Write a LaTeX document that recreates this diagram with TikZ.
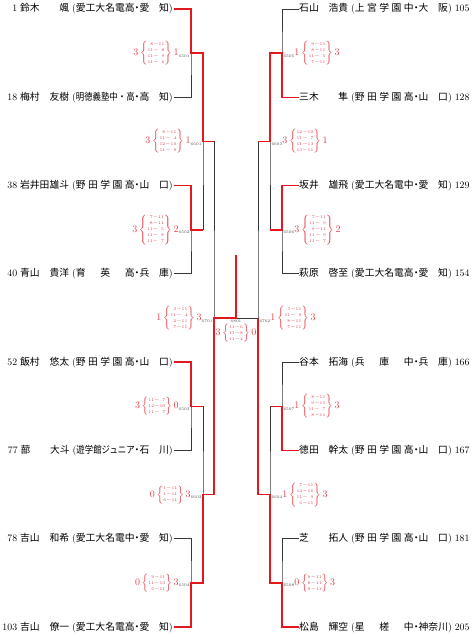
\documentclass[tikz,border=0pt]{standalone}
\usepackage{fontspec}
\usepackage{graphicx}
\usepackage{xcolor}
\usepackage{tikz}
\usetikzlibrary{positioning}
\newfontfamily\cjk{Noto Sans CJK JP}
\definecolor{winred}{RGB}{225,25,30}
\definecolor{scorered}{RGB}{228,62,72}
\definecolor{losegray}{RGB}{55,55,55}
% entry fields
\newcommand\nm[2]{\makebox[5em][l]{#1\hfill #2}}
\newcommand\sch[1]{\makebox[6em][s]{#1}}
\newcommand\pref[1]{\makebox[3em][s]{#1}}
\newcommand\pleft[5]{\makebox[1.5em][r]{\rmfamily #1}\hspace{0.3em}\nm{#2}{#3}\hspace{0.3em}{\rmfamily(}#4\makebox[0.5em]{・}#5{\rmfamily)}}
\newcommand\pright[5]{\nm{#2}{#3}\hspace{0.3em}{\rmfamily(}#4\makebox[0.5em]{・}#5{\rmfamily)}\hspace{0.3em}\makebox[1.5em][l]{\rmfamily #1}}
% game scores
\newcommand\games[1]{\vcenter{\hbox{\fontsize{4.2}{6}\selectfont\begin{tabular}{@{}r@{$-$}r@{}}#1\end{tabular}}}}
\newcommand\mno[1]{\raisebox{-1.5pt}{\color{black!70}\fontsize{4}{4}\selectfont #1}}
\newcommand\resl[4]{#1$\,\left\{\games{#2}\right\}\,$#3\mno{#4}}
\newcommand\resr[4]{\mno{#4}#1$\,\left\{\games{#2}\right\}\,$#3}
\begin{document}
\begin{tikzpicture}[x=1pt, y=-1pt,
  plyL/.style={anchor=east, inner sep=0.5pt, font=\cjk\fontsize{9.8}{11}\selectfont},
  plyR/.style={anchor=west, inner sep=0.5pt, font=\cjk\fontsize{9.8}{11}\selectfont},
  resL/.style={anchor=east, xshift=-0.8pt, inner sep=0.5pt, text=scorered, font=\fontsize{10}{12}\selectfont},
  resR/.style={anchor=west, xshift=0.8pt, inner sep=0.5pt, text=scorered, font=\fontsize{10}{12}\selectfont},
  resC/.style={inner sep=0.5pt, text=scorered, font=\fontsize{10}{12}\selectfont},
  win/.style={draw=winred, line width=1.5pt},
  lose/.style={draw=losegray, line width=1pt}]
  \useasboundingbox (0,0) rectangle (475,637);
  % match points
  \coordinate (m6501) at (191,53.15);
  \coordinate (m6502) at (191,229.75);
  \coordinate (m6503) at (191,406.35);
  \coordinate (m6504) at (191,582.95);
  \coordinate (m6601) at (203,141.45);
  \coordinate (m6602) at (203,494.65);
  \coordinate (m6701) at (214,318.05);
  \coordinate (m6801) at (236,318.05);
  \coordinate (champ) at (236,255);
  \coordinate (m6702) at (258,318.05);
  \coordinate (m6603) at (270,141.45);
  \coordinate (m6604) at (270,494.65);
  \coordinate (m6505) at (282,53.15);
  \coordinate (m6506) at (282,229.75);
  \coordinate (m6507) at (282,406.35);
  \coordinate (m6508) at (282,582.95);
  % players, left
  \node[plyL] (L1) at (173.5,9) {\pleft{1}{鈴木}{颯}{\sch{愛工大名電高}}{\pref{愛\hfil 知}}};
  \node[plyL] (L2) at (173.5,97.3) {\pleft{18}{梅村}{友樹}{\scalebox{0.857}[1]{明徳義塾中・高}}{\pref{高\hfil 知}}};
  \node[plyL] (L3) at (173.5,185.6) {\pleft{38}{岩井田}{雄斗}{\sch{野\hfil 田\hfil 学\hfil 園\hfil 高}}{\pref{山\hfil 口}}};
  \node[plyL] (L4) at (173.5,273.9) {\pleft{40}{青山}{貴洋}{\sch{育\hfil 英\hfil 高}}{\pref{兵\hfil 庫}}};
  \node[plyL] (L5) at (173.5,362.2) {\pleft{52}{飯村}{悠太}{\sch{野\hfil 田\hfil 学\hfil 園\hfil 高}}{\pref{山\hfil 口}}};
  \node[plyL] (L6) at (173.5,450.5) {\pleft{77}{蔀}{大斗}{\scalebox{0.857}[1]{遊学館ジュニア}}{\pref{石\hfil 川}}};
  \node[plyL] (L7) at (173.5,538.8) {\pleft{78}{吉山}{和希}{\sch{愛工大名電中}}{\pref{愛\hfil 知}}};
  \node[plyL] (L8) at (173.5,627.1) {\pleft{103}{吉山}{僚一}{\sch{愛工大名電高}}{\pref{愛\hfil 知}}};
  % players, right
  \node[plyR] (R1) at (298.5,9) {\pright{105}{石山}{浩貴}{\sch{上\hfil 宮\hfil 学\hfil 園\hfil 中}}{\pref{大\hfil 阪}}};
  \node[plyR] (R2) at (298.5,97.3) {\pright{128}{三木}{隼}{\sch{野\hfil 田\hfil 学\hfil 園\hfil 高}}{\pref{山\hfil 口}}};
  \node[plyR] (R3) at (298.5,185.6) {\pright{129}{坂井}{雄飛}{\sch{愛工大名電中}}{\pref{愛\hfil 知}}};
  \node[plyR] (R4) at (298.5,273.9) {\pright{154}{萩原}{啓至}{\sch{愛工大名電高}}{\pref{愛\hfil 知}}};
  \node[plyR] (R5) at (298.5,362.2) {\pright{166}{谷本}{拓海}{\sch{兵\hfil 庫\hfil 中}}{\pref{兵\hfil 庫}}};
  \node[plyR] (R6) at (298.5,450.5) {\pright{167}{徳田}{幹太}{\sch{野\hfil 田\hfil 学\hfil 園\hfil 高}}{\pref{山\hfil 口}}};
  \node[plyR] (R7) at (298.5,538.8) {\pright{181}{芝}{拓人}{\sch{野\hfil 田\hfil 学\hfil 園\hfil 高}}{\pref{山\hfil 口}}};
  \node[plyR] (R8) at (298.5,627.1) {\pright{205}{松島}{輝空}{\sch{星\hfil 槎\hfil 中}}{\pref{神奈川}}};
  % bracket
  \draw[lose] (L1.east) -| (m6501) |- (L2.east);
  \draw[lose] (L3.east) -| (m6502) |- (L4.east);
  \draw[lose] (L5.east) -| (m6503) |- (L6.east);
  \draw[lose] (L7.east) -| (m6504) |- (L8.east);
  \draw[lose] (m6501) -| (m6601) |- (m6502);
  \draw[lose] (m6503) -| (m6602) |- (m6504);
  \draw[lose] (m6601) -| (m6701) |- (m6602);
  \draw[lose] (m6701) -- (m6702);
  \draw[lose] (R1.west) -| (m6505) |- (R2.west);
  \draw[lose] (R3.west) -| (m6506) |- (R4.west);
  \draw[lose] (R5.west) -| (m6507) |- (R6.west);
  \draw[lose] (R7.west) -| (m6508) |- (R8.west);
  \draw[lose] (m6505) -| (m6603) |- (m6506);
  \draw[lose] (m6507) -| (m6604) |- (m6508);
  \draw[lose] (m6603) -| (m6702) |- (m6604);
  % winners
  \draw[win] (L1.east) -| (m6501) -| (m6601) -- (m6601 -| m6701);
  \draw[win] (L3.east) -| (m6502) -- (m6502 -| m6601);
  \draw[win] (L5.east) -| (m6503) -- (m6503 -| m6602);
  \draw[win] (L8.east) -| (m6504) -| (m6602) -| (m6701) -- (m6801) -- (champ);
  \draw[win] (R2.west) -| (m6505) -| (m6603) -- (m6603 -| m6702);
  \draw[win] (R3.west) -| (m6506) -- (m6506 -| m6603);
  \draw[win] (R6.west) -| (m6507) -- (m6507 -| m6604);
  \draw[win] (R8.west) -| (m6508) -| (m6604) -| (m6702);
  % results
  \node[resL] (r6501) at (m6501) {\resl{3}{8&11\\11&8\\11&9\\11&6}{1}{6501}};
  \node[resL] (r6502) at (m6502) {\resl{3}{7&11\\8&11\\11&5\\11&8\\11&7}{2}{6502}};
  \node[resL] (r6503) at (m6503) {\resl{3}{11&7\\12&10\\11&7}{0}{6503}};
  \node[resL] (r6504) at (m6504) {\resl{0}{9&11\\11&13\\6&11}{3}{6504}};
  \node[resL] (r6601) at (m6601) {\resl{3}{8&11\\11&4\\12&10\\11&9}{1}{6601}};
  \node[resL] (r6602) at (m6602) {\resl{0}{1&11\\1&11\\6&11}{3}{6602}};
  \node[resL] (r6701) at (m6701) {\resl{1}{3&11\\11&4\\2&11\\7&11}{3}{6701}};
  \node[resR] (r6505) at (m6505) {\resr{1}{9&11\\8&11\\11&5\\7&11}{3}{6505}};
  \node[resR] (r6506) at (m6506) {\resr{3}{7&11\\11&9\\9&11\\11&9\\11&7}{2}{6506}};
  \node[resR] (r6507) at (m6507) {\resr{1}{8&11\\9&11\\11&7\\8&11}{3}{6507}};
  \node[resR] (r6508) at (m6508) {\resr{0}{9&11\\8&11\\9&11}{3}{6508}};
  \node[resR] (r6603) at (m6603) {\resr{3}{12&10\\11&7\\11&13\\13&11}{1}{6603}};
  \node[resR] (r6604) at (m6604) {\resr{1}{7&11\\14&16\\11&9\\6&11}{3}{6604}};
  \node[resR] (r6702) at (m6702) {\resr{1}{3&11\\11&9\\8&11\\7&11}{3}{6702}};
  \node[anchor=north, inner sep=0.5pt, yshift=-1pt, text=black!70, font=\fontsize{4}{4}\selectfont] (c6801) at (m6801) {6801};
  \node[resC, below=0pt of c6801] (r6801) {3$\,\left\{\games{11&6\\11&8\\11&4}\right\}\,$0};
\end{tikzpicture}
\end{document}
